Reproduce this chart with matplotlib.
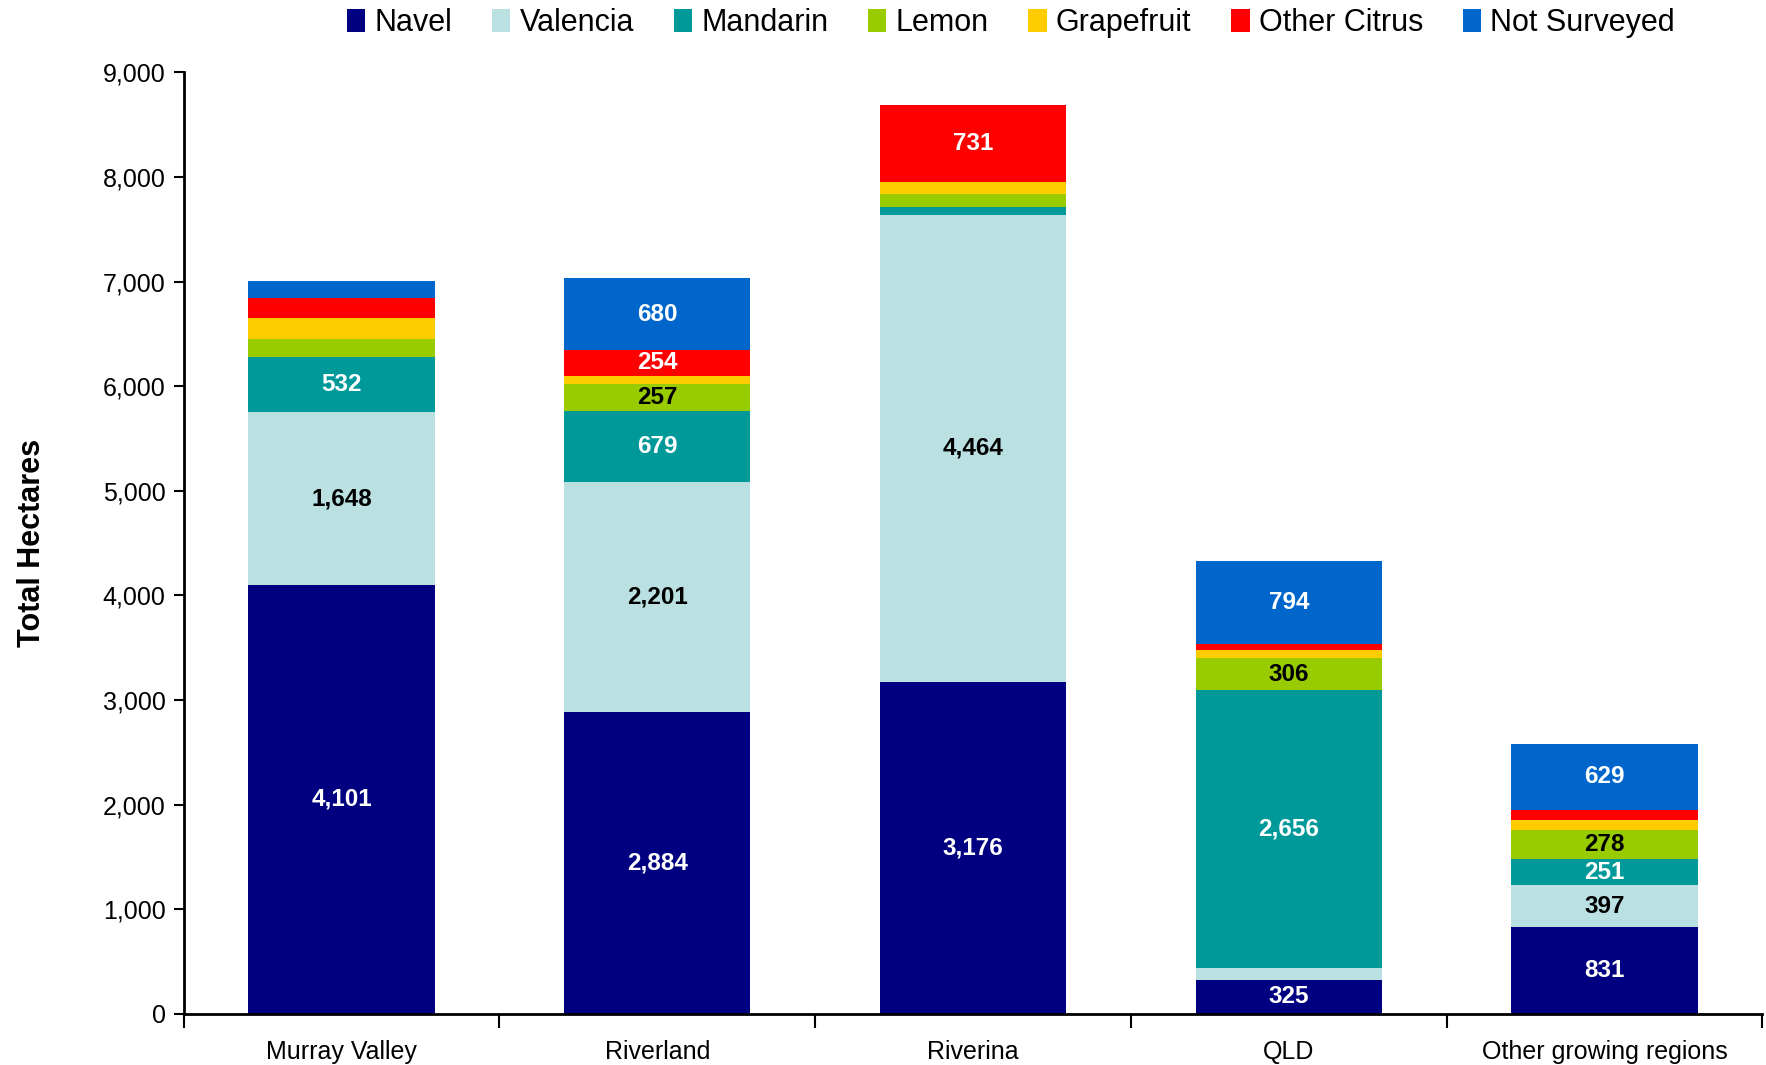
import matplotlib
matplotlib.use("Agg")
import matplotlib.pyplot as plt
import numpy as np
from matplotlib.ticker import FuncFormatter

regions = ["Murray Valley", "Riverland", "Riverina", "QLD", "Other growing regions"]
series_names = ["Navel", "Valencia", "Mandarin", "Lemon", "Grapefruit", "Other Citrus", "Not Surveyed"]

navel = [4101, 2884, 3176, 325, 831]
valencia = [1648, 2201, 4464, 115, 397]
mandarin = [532, 679, 70, 2656, 251]
lemon = [168, 257, 125, 306, 278]
grapefruit = [204, 75, 120, 80, 100]
other_citrus = [191, 254, 731, 50, 95]
not_surveyed = [159, 680, 0, 794, 629]

colors = ["#000080", "#BAE0E2", "#009999", "#99CC00", "#FFCC00", "#FF0000", "#0066CC"]
label_colors = ["white", "black", "white", "black", "black", "white", "white"]

plt.rcParams["font.family"] = ["Liberation Sans", "DejaVu Sans"]

fig = plt.figure(figsize=(17.66, 10.65), dpi=100)
ax = fig.add_axes([0.104, 0.048, 0.894, 0.884])

x = np.arange(len(regions)) + 0.5
bottom = np.zeros(len(regions))
all_series = [navel, valencia, mandarin, lemon, grapefruit, other_citrus, not_surveyed]
for name, vals, col, lcol in zip(series_names, all_series, colors, label_colors):
    vals = np.array(vals, dtype=float)
    ax.bar(x, vals, width=0.59, bottom=bottom, color=col, label=name, linewidth=0)
    for xi, b, v in zip(x, bottom, vals):
        if v >= 250:
            ax.text(xi, b + v / 2, f"{int(v):,}", ha="center", va="center",
                    color=lcol, fontsize=17.5, fontweight="bold")
    bottom += vals

ax.set_xlim(0, len(regions))
ax.set_ylim(0, 9000)
ax.set_yticks(np.arange(0, 9001, 1000))
ax.yaxis.set_major_formatter(FuncFormatter(lambda v, p: f"{int(v):,}"))
ax.set_xticks(np.arange(0, len(regions) + 1))
ax.set_xticklabels([])
ax.set_xticks(x, minor=True)
ax.set_xticklabels(regions, minor=True)
ax.tick_params(axis="x", which="major", length=10, width=1.5, direction="out")
ax.tick_params(axis="x", which="minor", length=0, pad=19, labelsize=18)
ax.tick_params(axis="y", length=7, width=1.5, direction="out", labelsize=18, pad=6)

for side in ["top", "right"]:
    ax.spines[side].set_visible(False)
for side in ["left", "bottom"]:
    ax.spines[side].set_linewidth(2)

ax.set_ylabel("Total Hectares", fontsize=22, fontweight="bold", labelpad=40)

fig.legend(loc="upper right", bbox_to_anchor=(0.964, 1.018), ncol=7, frameon=False,
           fontsize=22, handlelength=0.6, handleheight=0.75, handletextpad=0.3,
           columnspacing=1.3)

fig.savefig("out.png", dpi=100)
